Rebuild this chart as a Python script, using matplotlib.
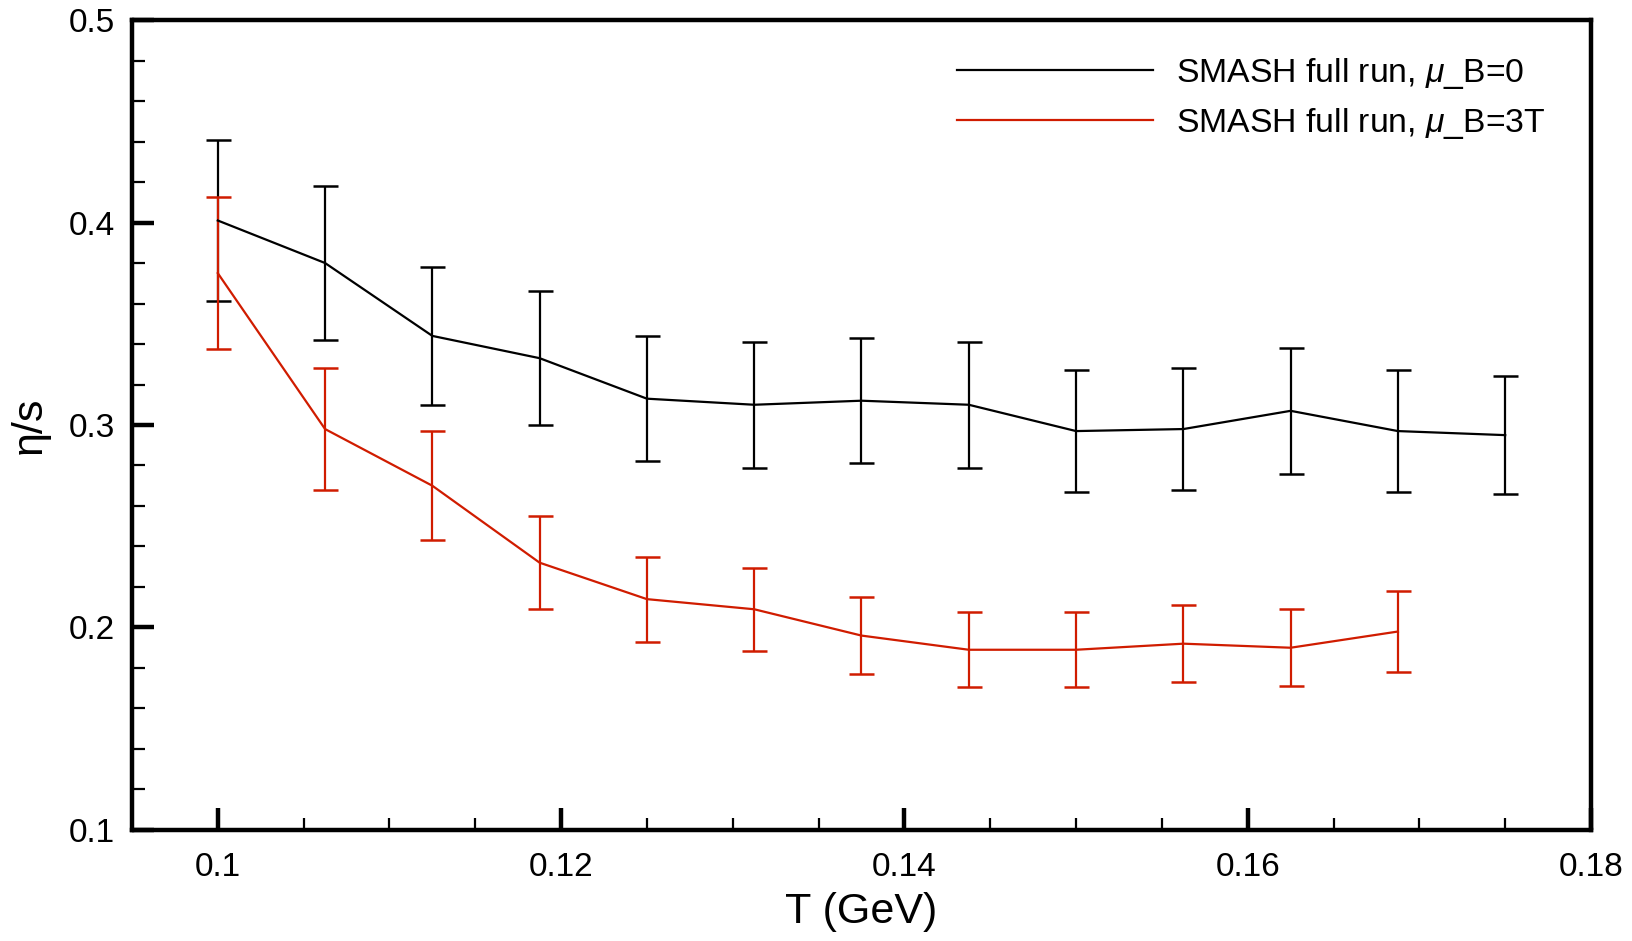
import matplotlib
matplotlib.use("Agg")
import matplotlib.pyplot as plt
from matplotlib.ticker import MultipleLocator
from matplotlib.lines import Line2D

plt.rcParams['font.family'] = ['Liberation Sans', 'DejaVu Sans']
plt.rcParams['mathtext.fontset'] = 'custom'
plt.rcParams['mathtext.it'] = 'Liberation Sans:italic'

# temperatures (GeV)
T_mu0 = [0.1, 0.10625, 0.1125, 0.11875, 0.125, 0.13125, 0.1375,
         0.14375, 0.15, 0.15625, 0.1625, 0.16875, 0.175]
T_mu3T = T_mu0[:12]

# eta/s, mu_B = 0
eta_mu0 = [0.401, 0.380, 0.344, 0.333, 0.313, 0.310, 0.312,
           0.310, 0.297, 0.298, 0.307, 0.297, 0.295]
err_mu0 = [0.040, 0.038, 0.034, 0.033, 0.031, 0.031, 0.031,
           0.031, 0.030, 0.030, 0.031, 0.030, 0.029]

# eta/s, mu_B = 3T
eta_mu3T = [0.375, 0.298, 0.270, 0.232, 0.214, 0.209, 0.196,
            0.189, 0.189, 0.192, 0.190, 0.198]
err_mu3T = [0.0375, 0.030, 0.027, 0.023, 0.021, 0.0205, 0.019,
            0.0185, 0.0185, 0.019, 0.019, 0.020]

labels = [r'SMASH full run, $\mu$_B=0', r'SMASH full run, $\mu$_B=3T']
red = '#d01c00'

fig = plt.figure(figsize=(16.33, 9.41), dpi=100)
ax = fig.add_axes([0.0808, 0.118, 0.8935, 0.8607])

ax.errorbar(T_mu0, eta_mu0, yerr=err_mu0, color='black', lw=1.6,
            elinewidth=1.6, capsize=9, capthick=1.8)
ax.errorbar(T_mu3T, eta_mu3T, yerr=err_mu3T, color=red, lw=1.6,
            elinewidth=1.6, capsize=9, capthick=1.8)

ax.set_xlim(0.095, 0.18)
ax.set_ylim(0.1, 0.5)
ax.xaxis.set_minor_locator(MultipleLocator(0.005))
ax.yaxis.set_minor_locator(MultipleLocator(0.02))
ax.set_xticks([0.1, 0.12, 0.14, 0.16, 0.18])
ax.set_xticklabels(['0.1', '0.12', '0.14', '0.16', '0.18'])
ax.set_yticks([0.1, 0.2, 0.3, 0.4, 0.5])
ax.set_yticklabels(['0.1', '0.2', '0.3', '0.4', '0.5'])

ax.tick_params(which='both', direction='in', top=False, right=False,
               labelsize=24)
ax.tick_params(which='major', length=16, width=3.2, pad=16)
ax.tick_params(which='minor', length=9, width=1.6)
ax.tick_params(axis='y', which='major', pad=12)

for s in ax.spines.values():
    s.set_linewidth(3.2)

ax.set_xlabel('T (GeV)', fontsize=31, labelpad=6)
ax.set_ylabel('η/s', fontsize=31, labelpad=14)

handles = [Line2D([], [], color='black', lw=1.6),
           Line2D([], [], color=red, lw=1.6)]
ax.legend(handles, labels, loc='upper right', bbox_to_anchor=(0.99, 0.993),
          frameon=False, fontsize=24.3, handlelength=5.8,
          handletextpad=0.7, labelspacing=0.45)

fig.savefig('out.png', dpi=100)
